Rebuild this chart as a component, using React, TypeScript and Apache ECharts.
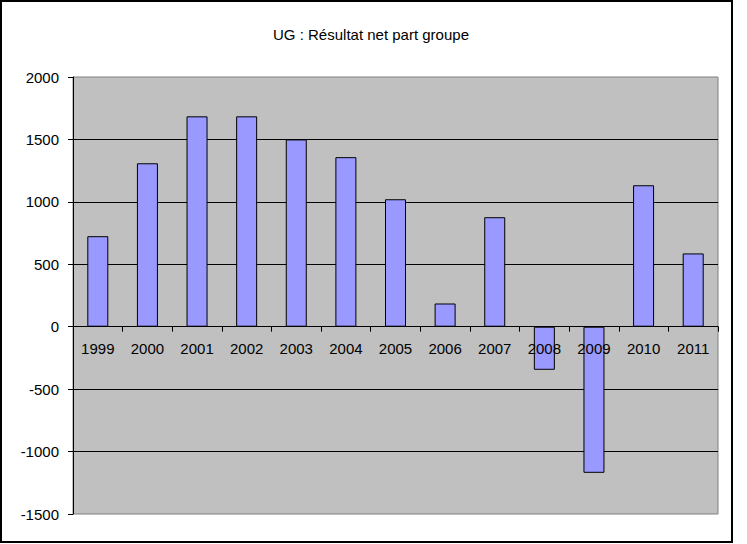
import React, { useEffect, useRef } from "react";
import * as echarts from "echarts";

const titleText = "UG : Résultat net part groupe";
const years = ["1999", "2000", "2001", "2002", "2003", "2004", "2005", "2006", "2007", "2008", "2009", "2010", "2011"];
const netResult = [725, 1309, 1685, 1685, 1500, 1358, 1021, 186, 877, -345, -1170, 1133, 587];
const yMin = -1500;
const yMax = 2000;
const yStep = 500;

const FONT = "'Liberation Sans', Arial, sans-serif";
const GRID_TOP = 77;
const GRID_HEIGHT = 437;

export default function App() {
  const ref = useRef<HTMLDivElement>(null);
  useEffect(() => {
    if (!ref.current) return;
    const chart = echarts.init(ref.current, null, { renderer: "svg" });
    const zeroOffset = -(GRID_HEIGHT * (0 - yMin)) / (yMax - yMin);
    chart.setOption({
      animation: false,
      backgroundColor: "#ffffff",
      title: {
        text: titleText,
        left: 366,
        top: 22,
        textAlign: "center",
        textStyle: { fontFamily: FONT, fontSize: 15, fontWeight: "normal", color: "#000" },
      },
      graphic: [
        {
          type: "rect",
          shape: { x: 1, y: 1, width: 731, height: 541 },
          style: { fill: "none", stroke: "#000", lineWidth: 2 },
          silent: true,
        },
      ],
      grid: {
        left: 73,
        top: GRID_TOP,
        width: 645,
        height: GRID_HEIGHT,
        show: true,
        backgroundColor: "#c0c0c0",
        borderColor: "#808080",
        borderWidth: 1,
        containLabel: false,
      },
      xAxis: {
        type: "category",
        data: years,
        position: "bottom",
        offset: zeroOffset,
        z: 10,
        boundaryGap: true,
        axisLine: { show: true, onZero: false, lineStyle: { color: "#000", width: 1 } },
        axisTick: { show: true, length: 5, inside: false, alignWithLabel: false, lineStyle: { color: "#000" } },
        axisLabel: { margin: 14, fontFamily: FONT, fontSize: 15, color: "#000", interval: 0 },
        splitLine: { show: false },
      },
      yAxis: {
        type: "value",
        min: yMin,
        max: yMax,
        interval: yStep,
        axisLine: { show: true, onZero: false, lineStyle: { color: "#000", width: 1 } },
        axisTick: { show: true, length: 5, inside: false, lineStyle: { color: "#000" } },
        axisLabel: {
          margin: 14,
          fontFamily: FONT,
          fontSize: 15,
          color: "#000",
          formatter: (v: number) => String(v),
        },
        splitLine: { show: true, showMinLine: false, showMaxLine: false, lineStyle: { color: "#000", width: 1 } },
      },
      series: [
        {
          type: "bar",
          data: netResult,
          barWidth: 21,
          itemStyle: { color: "#9999ff", borderColor: "#000", borderWidth: 1 },
        },
      ],
    });
    return () => chart.dispose();
  }, []);
  return (
    <div
      ref={ref}
      style={{ position: "absolute", left: 0, top: 0, width: 747, height: 544 }}
    />
  );
}
